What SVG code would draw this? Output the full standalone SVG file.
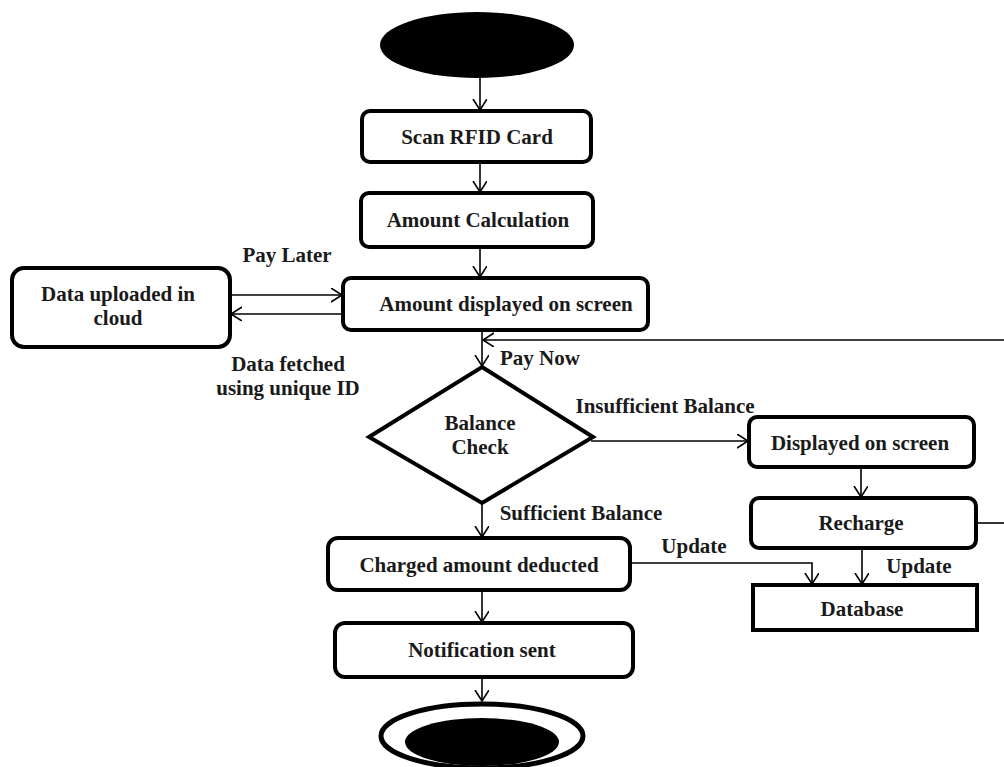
<svg xmlns="http://www.w3.org/2000/svg" width="1004" height="767" viewBox="0 0 1004 767">
<style>
.box{fill:#fff;stroke:#000;stroke-width:4}
.t{font-family:'Liberation Serif','DejaVu Serif',serif;font-weight:bold;font-size:21px;fill:#1a1a1a;text-anchor:middle}
.c{fill:none;stroke:#000;stroke-width:1.6}
</style>
<defs>
<marker id="ah" markerUnits="userSpaceOnUse" markerWidth="14" markerHeight="16" refX="11" refY="7" orient="auto">
<path d="M0,0 L11,7 L0,14" fill="none" stroke="#000" stroke-width="1.6"/>
</marker>
</defs>
<rect width="1004" height="767" fill="#fff"/>
<g id="connectors">
<line class="c" x1="480" y1="78" x2="480" y2="110" marker-end="url(#ah)"/>
<line class="c" x1="480" y1="162" x2="480" y2="192" marker-end="url(#ah)"/>
<line class="c" x1="480" y1="247" x2="480" y2="277" marker-end="url(#ah)"/>
<line class="c" x1="230" y1="295" x2="342" y2="295" marker-end="url(#ah)"/>
<line class="c" x1="343" y1="314" x2="231" y2="314" marker-end="url(#ah)"/>
<line class="c" x1="482" y1="330" x2="482" y2="366" marker-end="url(#ah)"/>
<line class="c" x1="1004" y1="340" x2="483" y2="340" marker-end="url(#ah)"/>
<line class="c" x1="591" y1="441" x2="748" y2="441" marker-end="url(#ah)"/>
<line class="c" x1="482" y1="504" x2="482" y2="537" marker-end="url(#ah)"/>
<line class="c" x1="861" y1="467" x2="861" y2="497" marker-end="url(#ah)"/>
<line class="c" x1="976" y1="523" x2="1004" y2="523"/>
<line class="c" x1="862" y1="548" x2="862" y2="584" marker-end="url(#ah)"/>
<polyline class="c" points="630,563 812,563 812,584" marker-end="url(#ah)"/>
<line class="c" x1="482" y1="590" x2="482" y2="622" marker-end="url(#ah)"/>
<line class="c" x1="482" y1="677" x2="482" y2="701" marker-end="url(#ah)"/>
<text class="t" x="287" y="262">Pay Later</text>
<text class="t" x="288" y="371">Data fetched</text>
<text class="t" x="288" y="395">using unique ID</text>
<text class="t" x="540" y="365">Pay Now</text>
<text class="t" x="665" y="413">Insufficient Balance</text>
<text class="t" x="581" y="520">Sufficient Balance</text>
<text class="t" x="694" y="553">Update</text>
<text class="t" x="919" y="573">Update</text>
</g>
<g id="start">
<ellipse cx="477" cy="45" rx="97" ry="33" fill="#000"/>
</g>
<g id="scan">
<rect class="box" x="362" y="111" width="229" height="51" rx="8"/>
<text class="t" x="477" y="144">Scan RFID Card</text>
</g>
<g id="calc">
<rect class="box" x="361" y="193" width="232" height="54" rx="8"/>
<text class="t" x="478" y="227">Amount Calculation</text>
</g>
<g id="displayed">
<rect class="box" x="343" y="278" width="305" height="52" rx="8"/>
<text class="t" x="506" y="311">Amount displayed on screen</text>
</g>
<g id="cloud">
<rect class="box" x="12" y="268" width="218" height="79" rx="12"/>
<text class="t" x="118" y="301">Data uploaded in</text>
<text class="t" x="118" y="325">cloud</text>
</g>
<g id="check">
<polygon class="box" points="482,367 593,437 482,503 369,437"/>
<text class="t" x="480" y="430">Balance</text>
<text class="t" x="480" y="454">Check</text>
</g>
<g id="insufficient">
<rect class="box" x="749" y="417" width="225" height="50" rx="8"/>
<text class="t" x="860" y="450">Displayed on screen</text>
</g>
<g id="recharge">
<rect class="box" x="751" y="498" width="225" height="50" rx="8"/>
<text class="t" x="861" y="530">Recharge</text>
</g>
<g id="database">
<rect class="box" x="753" y="585" width="224" height="45"/>
<text class="t" x="862" y="616">Database</text>
</g>
<g id="deducted">
<rect class="box" x="328" y="538" width="302" height="52" rx="10"/>
<text class="t" x="479" y="572">Charged amount deducted</text>
</g>
<g id="notify">
<rect class="box" x="335" y="623" width="298" height="54" rx="10"/>
<text class="t" x="482" y="657">Notification sent</text>
</g>
<g id="end">
<ellipse cx="482" cy="736" rx="101" ry="32" fill="#fff" stroke="#000" stroke-width="5"/>
<ellipse cx="482" cy="742" rx="77" ry="24" fill="#000"/>
</g>
</svg>
